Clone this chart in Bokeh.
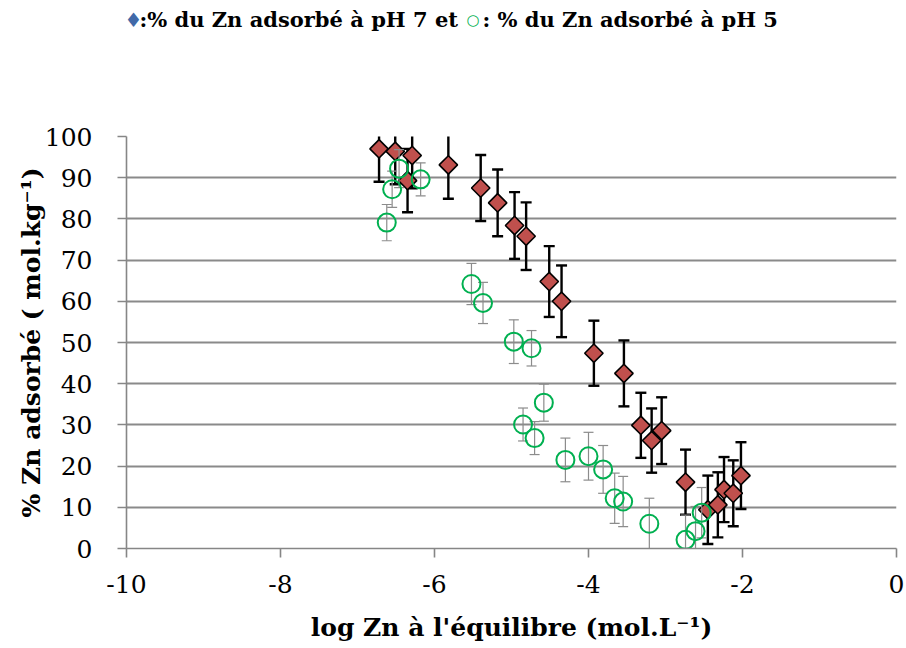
import numpy as np
from bokeh.plotting import figure
from bokeh.layouts import column
from bokeh.models import FixedTicker, ColumnDataSource, CustomJSTickFormatter, Range1d
from bokeh.core.properties import value
from bokeh.embed import file_html
from bokeh.resources import INLINE

# pH 7 series (diamonds)
x_ph7 = [-6.72, -6.51, -6.35, -6.29, -5.82, -5.40, -5.18, -4.96, -4.81, -4.51, -4.35,
         -3.93, -3.54, -3.32, -3.18, -3.05, -2.74, -2.45, -2.32, -2.24, -2.12, -2.02]
y_ph7 = [97.0, 96.4, 89.3, 95.4, 93.1, 87.5, 83.9, 78.4, 75.8, 64.8, 60.0,
         47.4, 42.5, 29.9, 26.2, 28.6, 16.1, 9.4, 10.6, 14.3, 13.4, 17.7]
err_ph7 = [8.0, 8.0, 7.7, 8.0, 8.2, 8.0, 8.1, 8.1, 8.2, 8.6, 8.7,
           7.9, 8.0, 7.9, 7.8, 8.1, 7.9, 8.3, 7.9, 7.9, 8.0, 8.1]

# pH 5 series (circles)
x_ph5 = [-6.62, -6.55, -6.46, -6.18, -5.52, -5.37, -4.97, -4.74, -4.85, -4.70, -4.58,
         -4.30, -4.00, -3.81, -3.66, -3.55, -3.21, -2.74, -2.61, -2.53]
y_ph5 = [79.1, 87.2, 92.2, 89.6, 64.2, 59.6, 50.2, 48.6, 30.1, 26.8, 35.4,
         21.5, 22.4, 19.2, 12.2, 11.4, 6.0, 2.1, 4.2, 8.7]
err_ph5 = [4.4, 4.4, 4.6, 4.0, 5.0, 5.0, 5.3, 4.3, 4.0, 4.0, 4.5,
           5.3, 5.8, 5.8, 6.1, 6.1, 6.2, 6.0, 6.0, 6.1]

x_ticks = [-10, -8, -6, -4, -2, 0]
y_ticks = [0, 10, 20, 30, 40, 50, 60, 70, 80, 90, 100]

title_parts = ["\u2666", ":% du Zn adsorbé à pH 7 et", "\u25cb", ": % du Zn adsorbé à pH 5"]
x_label = "log Zn à l'équilibre (mol.L\u207b\u00b9)"
y_label = "% Zn adsorbé ( mol.kg\u207b\u00b9)"

SERIF = "DejaVu Serif"
W = 904
TITLE_H = 40
FRAME_L, FRAME_R = 126, 896   # frame position in page pixels (title strip aligns to it)

# ---------- title strip ----------
t = figure(width=W, height=TITLE_H, output_backend="svg", toolbar_location=None,
           x_range=Range1d(FRAME_L, FRAME_R), y_range=Range1d(TITLE_H, 0),
           min_border=0, outline_line_color=None)
t.axis.visible = False
t.grid.visible = False
t.background_fill_color = "white"
t.border_fill_color = "white"
tsrc_txt = ColumnDataSource(dict(x=[139, 482], y=[19, 19],
                                 text=[title_parts[1], title_parts[3]]))
t.text(x="x", y="y", text="text", text_color="black", text_font_size="21px",
       text_font=value(SERIF), text_font_style="bold", text_align="left",
       text_baseline="alphabetic", source=tsrc_txt)
t.text(x=[124], y=[19], text=[title_parts[0]], text_color="#4169A8", text_font_size="20px",
       text_font=value("DejaVu Sans"), text_align="left", text_baseline="alphabetic")
t.text(x=[466], y=[19], text=[title_parts[2]], text_color="#00B050", text_font_size="15px",
       text_font=value("DejaVu Sans"), text_align="left", text_baseline="alphabetic")

# ---------- main plot ----------
p = figure(width=W, height=646 - TITLE_H, output_backend="svg", toolbar_location=None,
           x_range=(-10, 0), y_range=(0, 100),
           min_border_left=FRAME_L, min_border_right=W - FRAME_R,
           min_border_top=136 - TITLE_H, min_border_bottom=98)
p.outline_line_color = None
p.background_fill_color = "white"
p.border_fill_color = "white"

src7 = ColumnDataSource(dict(x=x_ph7, y=y_ph7,
                             lo=[a - b for a, b in zip(y_ph7, err_ph7)],
                             hi=[a + b for a, b in zip(y_ph7, err_ph7)]))
src5 = ColumnDataSource(dict(x=x_ph5, y=y_ph5,
                             lo=[a - b for a, b in zip(y_ph5, err_ph5)],
                             hi=[a + b for a, b in zip(y_ph5, err_ph5)]))

# pH 7 error bars + diamonds
p.segment(x0="x", y0="lo", x1="x", y1="hi", source=src7, line_color="black", line_width=2.4)
p.scatter(x="x", y="hi", source=src7, marker="dash", size=11, line_color="black", line_width=2.4)
p.scatter(x="x", y="lo", source=src7, marker="dash", size=11, line_color="black", line_width=2.4)
p.scatter(x="x", y="y", source=src7, marker="square", size=13, angle=np.pi / 4,
          fill_color="#C0504D", line_color="black", line_width=1.6)

# pH 5 error bars + circles
p.segment(x0="x", y0="lo", x1="x", y1="hi", source=src5, line_color="#8C8C8C", line_width=1.2)
p.scatter(x="x", y="hi", source=src5, marker="dash", size=10, line_color="#8C8C8C", line_width=1.2)
p.scatter(x="x", y="lo", source=src5, marker="dash", size=10, line_color="#8C8C8C", line_width=1.2)
p.scatter(x="x", y="y", source=src5, marker="circle", size=18,
          fill_color=None, line_color="#00B050", line_width=2)

# axes
p.xaxis.ticker = FixedTicker(ticks=x_ticks)
p.yaxis.ticker = FixedTicker(ticks=y_ticks)
p.xaxis.formatter = CustomJSTickFormatter(code="return tick.toFixed(0)")
for ax in (p.xaxis[0], p.yaxis[0]):
    ax.axis_line_color = "#868686"
    ax.axis_line_width = 1.6
    ax.major_tick_line_color = "#868686"
    ax.major_tick_line_width = 1.6
    ax.major_tick_out = 9
    ax.major_tick_in = 0
    ax.minor_tick_line_color = None
    ax.major_label_text_font = SERIF
    ax.major_label_text_font_size = "25px"
    ax.major_label_text_color = "black"
    ax.axis_label_text_font = SERIF
    ax.axis_label_text_font_style = "bold"
    ax.axis_label_text_font_size = "25px"
    ax.axis_label_text_color = "black"

p.xaxis.axis_label = x_label
p.yaxis.axis_label = y_label
p.xaxis.major_label_standoff = 17
p.xaxis.axis_label_standoff = 17
p.yaxis.major_label_standoff = 25
p.yaxis.axis_label_standoff = -4

p.xgrid.grid_line_color = None
p.ygrid.grid_line_color = "#8A8A8A"
p.ygrid.grid_line_width = 1.8

layout = column(t, p, spacing=0)
open("out.html", "w").write(file_html(layout, INLINE))
